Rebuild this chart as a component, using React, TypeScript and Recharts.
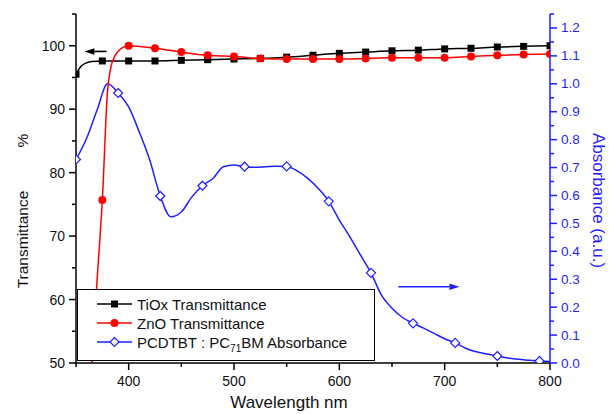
import { ComposedChart, Line, XAxis, YAxis, ReferenceLine } from "recharts";

const FONT = "'Liberation Sans', Arial, sans-serif";
const BLUE = "#1f1fff";

// marker wavelengths for the two transmittance curves (nm)
const markWl = [350, 375, 400, 425, 450, 475, 500, 525, 550, 575, 600, 625, 650, 675, 700, 725, 750, 775, 800];
const tiox = [95.5, 97.6, 97.6, 97.6, 97.7, 97.8, 97.9, 98.0, 98.2, 98.5, 98.8, 99.0, 99.2, 99.3, 99.5, 99.6, 99.8, 99.9, 100.0];
const zno = [20, 75.7, 100.0, 99.6, 99.0, 98.5, 98.3, 98.0, 97.9, 97.9, 97.9, 98.0, 98.1, 98.1, 98.1, 98.3, 98.5, 98.6, 98.7];

// extra samples of the measured curves near the band edge
const tioxEdgeWl = [355, 360, 365];
const tioxEdge = [96.8, 97.3, 97.5];
const znoEdgeWl = [360, 365, 370, 380, 383, 387, 393];
const znoEdge = [38, 50, 63, 93, 96.5, 98.4, 99.6];

// PCDTBT:PC71BM absorbance, line samples and marker points
const absWl = [350, 360, 370, 380, 390, 400, 410, 420, 430, 440, 450, 460, 470, 480, 490, 500, 510, 520, 530, 540, 550, 560, 570, 580, 590, 600, 610, 620, 630, 640, 650, 660, 670, 680, 690, 700, 710, 720, 730, 740, 750, 760, 770, 780, 790, 800];
const absVal = [0.729, 0.804, 0.906, 1.0, 0.967, 0.917, 0.828, 0.727, 0.598, 0.524, 0.541, 0.595, 0.635, 0.661, 0.703, 0.709, 0.703, 0.701, 0.703, 0.705, 0.704, 0.688, 0.661, 0.625, 0.579, 0.512, 0.452, 0.387, 0.323, 0.243, 0.196, 0.163, 0.142, 0.125, 0.106, 0.087, 0.072, 0.053, 0.04, 0.032, 0.025, 0.018, 0.013, 0.01, 0.007, 0.005];
const absMarkWl = [350, 390, 430, 470, 510, 550, 590, 630, 670, 710, 750, 790];

const xTicks = [350, 400, 450, 500, 550, 600, 650, 700, 750, 800];
const leftTicks = [50, 55, 60, 65, 70, 75, 80, 85, 90, 95, 100, 105];
const rightTicks = [0, 0.05, 0.1, 0.15, 0.2, 0.25, 0.3, 0.35, 0.4, 0.45, 0.5, 0.55, 0.6, 0.65, 0.7, 0.75, 0.8, 0.85, 0.9, 0.95, 1.0, 1.05, 1.1, 1.15, 1.2, 1.25];

const pts = (xs: number[], ys: number[]) => xs.map((x, i) => ({ x, y: ys[i] }));
const byX = (a: { x: number; y: number }[]) => [...a].sort((p, q) => p.x - q.x);

const tioxMarks = pts(markWl, tiox);
const tioxLine = byX([...tioxMarks, ...pts(tioxEdgeWl, tioxEdge)]);
const znoMarks = pts(markWl, zno);
const znoLine = byX([...znoMarks, ...pts(znoEdgeWl, znoEdge)]);
const absLine = pts(absWl, absVal);
const absMarks = absLine.filter((p) => absMarkWl.includes(p.x));

const SquareDot = (p: any) => <rect key={p.index} x={p.cx - 3.5} y={p.cy - 3.5} width={7} height={7} fill="#000" />;
const CircleDot = (p: any) => <circle key={p.index} cx={p.cx} cy={p.cy} r={4} fill="#ff0000" />;
const DiamondDot = (p: any) => (
  <polygon key={p.index} points={`${p.cx},${p.cy - 4.5} ${p.cx + 4.5},${p.cy} ${p.cx},${p.cy + 4.5} ${p.cx - 4.5},${p.cy}`} fill="#fff" stroke={BLUE} strokeWidth={1.2} />
);

const XTick = ({ x, y, payload }: any) => {
  const major = payload.value % 100 === 0;
  return (
    <g>
      <line x1={x} x2={x} y1={y} y2={y + (major ? 7 : 4)} stroke="#000" strokeWidth={1.5} />
      {major && (
        <text x={x} y={y + 23} textAnchor="middle" fontSize={14} fontFamily={FONT} fill="#111">
          {payload.value}
        </text>
      )}
    </g>
  );
};

const TopTick = ({ x, y, payload }: any) => {
  const major = payload.value % 100 === 0;
  return <line x1={x} x2={x} y1={y} y2={y + (major ? 7 : 4)} stroke="#000" strokeWidth={1.5} />;
};

const LeftTick = ({ x, y, payload }: any) => {
  const major = payload.value % 10 === 0 && payload.value <= 100;
  return (
    <g>
      <line x1={x - (major ? 7 : 4)} x2={x} y1={y} y2={y} stroke="#000" strokeWidth={1.5} />
      {major && (
        <text x={x - 11} y={y} textAnchor="end" dominantBaseline="central" fontSize={14} fontFamily={FONT} fill="#111">
          {payload.value}
        </text>
      )}
    </g>
  );
};

const RightTick = ({ x, y, payload }: any) => {
  const major = Math.round(payload.value * 100) % 10 === 0;
  return (
    <g>
      <line x1={x} x2={x + (major ? 7 : 4)} y1={y} y2={y} stroke={BLUE} strokeWidth={1.5} />
      {major && (
        <text x={x + 11} y={y} dominantBaseline="central" fontSize={13.5} fontFamily={FONT} fill={BLUE}>
          {payload.value.toFixed(1)}
        </text>
      )}
    </g>
  );
};

const Arrow = (p: any) => {
  const { x1, y1, x2, y2, stroke } = p;
  const dir = Math.sign(x2 - x1);
  const head = 10;
  return (
    <g>
      <line x1={x1} y1={y1} x2={x2 - dir * head} y2={y2} stroke={stroke} strokeWidth={1.6} />
      <polygon points={`${x2},${y2} ${x2 - dir * head},${y2 - 3.2} ${x2 - dir * head},${y2 + 3.2}`} fill={stroke} />
    </g>
  );
};

// "Transmittance" and "%" sit apart on the original axis title
const LeftTitle = ({ viewBox }: any) => {
  const cx = viewBox.x + 22;
  const mid = viewBox.y + viewBox.height / 2;
  const y1 = mid + 51;
  const y2 = mid - 48;
  return (
    <g fontSize={15.5} fontFamily={FONT} fill="#111">
      <text x={cx} y={y1} transform={`rotate(-90 ${cx} ${y1})`} textAnchor="middle" dominantBaseline="central">
        Transmittance
      </text>
      <text x={cx} y={y2} transform={`rotate(-90 ${cx} ${y2})`} textAnchor="middle" dominantBaseline="central">
        %
      </text>
    </g>
  );
};

const RightTitle = ({ viewBox }: any) => {
  const cx = viewBox.x + 48;
  const cy = viewBox.y + viewBox.height / 2 + 12;
  return (
    <text x={cx} y={cy} transform={`rotate(90 ${cx} ${cy})`} textAnchor="middle" dominantBaseline="central" fontSize={17} fontFamily={FONT} fill={BLUE}>
      Absorbance (a.u.)
    </text>
  );
};

const BottomTitle = ({ viewBox }: any) => (
  <text x={viewBox.x + viewBox.width / 2 - 24} y={viewBox.y + 45} textAnchor="middle" fontSize={17} fontFamily={FONT} fill="#111">
    Wavelength nm
  </text>
);

const legendRows = [
  { label: "TiOx Transmittance", color: "#000", shape: "square" },
  { label: "ZnO Transmittance", color: "#ff0000", shape: "circle" },
  { label: "PCDTBT : PC", color: BLUE, shape: "diamond" },
];

function LegendBox() {
  return (
    <div style={{ position: "absolute", left: 77, top: 289, width: 298, height: 72, border: "1px solid #000", background: "#fff", boxSizing: "border-box" }}>
      <svg width={296} height={70} style={{ display: "block" }}>
        {legendRows.map((r, i) => {
          const cy = 14 + i * 19;
          return (
            <g key={r.label}>
              <line x1={19} x2={54} y1={cy} y2={cy} stroke={r.color} strokeWidth={1.5} />
              {r.shape === "square" && <SquareDot cx={36.5} cy={cy} index={0} />}
              {r.shape === "circle" && <CircleDot cx={36.5} cy={cy} index={0} />}
              {r.shape === "diamond" && <DiamondDot cx={36.5} cy={cy} index={0} />}
              <text x={59} y={cy + 5.5} fontSize={15} fontFamily={FONT} fill="#111">
                {r.label}
                {r.shape === "diamond" && (
                  <>
                    <tspan fontSize={10} dy={4}>71</tspan>
                    <tspan dy={-4}>BM Absorbance</tspan>
                  </>
                )}
              </text>
            </g>
          );
        })}
      </svg>
    </div>
  );
}

export default function App() {
  return (
    <div style={{ position: "absolute", left: 0, top: 0, width: 609, height: 414, background: "#fff" }}>
      <ComposedChart width={609} height={414} margin={{ top: 14, right: 0, bottom: 0, left: 0 }}>
        <XAxis
          dataKey="x"
          type="number"
          domain={[350, 800]}
          ticks={xTicks}
          interval={0}
          allowDataOverflow
          tickSize={0}
          tickMargin={0}
          tick={XTick}
          height={51}
          axisLine={{ stroke: "#000", strokeWidth: 1.5 }}
          label={BottomTitle}
        />
        <XAxis
          xAxisId="top"
          orientation="top"
          dataKey="x"
          type="number"
          domain={[350, 800]}
          ticks={xTicks}
          interval={0}
          allowDataOverflow
          tickSize={0}
          tickMargin={0}
          tick={TopTick}
          height={0}
          axisLine={{ stroke: "#000", strokeWidth: 1.5 }}
        />
        <YAxis
          yAxisId="left"
          type="number"
          domain={[50, 105]}
          ticks={leftTicks}
          interval={0}
          allowDataOverflow
          tickSize={0}
          tickMargin={0}
          tick={LeftTick}
          width={76}
          axisLine={{ stroke: "#000", strokeWidth: 1.5 }}
          label={LeftTitle}
        />
        <YAxis
          yAxisId="right"
          orientation="right"
          type="number"
          domain={[0, 1.25]}
          ticks={rightTicks}
          interval={0}
          allowDataOverflow
          tickSize={0}
          tickMargin={0}
          tick={RightTick}
          width={59}
          axisLine={{ stroke: BLUE, strokeWidth: 1.5 }}
          label={RightTitle}
        />
        <Line yAxisId="right" data={absLine} dataKey="y" type="monotone" stroke={BLUE} strokeWidth={1.5} dot={false} activeDot={false} isAnimationActive={false} />
        <Line yAxisId="right" data={absMarks} dataKey="y" stroke="none" dot={DiamondDot} activeDot={false} isAnimationActive={false} />
        <Line yAxisId="left" data={tioxLine} dataKey="y" type="monotone" stroke="#000" strokeWidth={1.5} dot={false} activeDot={false} isAnimationActive={false} />
        <Line yAxisId="left" data={tioxMarks} dataKey="y" stroke="none" dot={SquareDot} activeDot={false} isAnimationActive={false} />
        <Line yAxisId="left" data={znoLine} dataKey="y" type="monotone" stroke="#ff0000" strokeWidth={1.5} dot={false} activeDot={false} isAnimationActive={false} />
        <Line yAxisId="left" data={znoMarks} dataKey="y" stroke="none" dot={CircleDot} activeDot={false} isAnimationActive={false} />
        <ReferenceLine yAxisId="left" segment={[{ x: 379, y: 99.1 }, { x: 358, y: 99.1 }]} stroke="#000" shape={Arrow} />
        <ReferenceLine yAxisId="right" segment={[{ x: 656, y: 0.273 }, { x: 714, y: 0.273 }]} stroke={BLUE} shape={Arrow} />
      </ComposedChart>
      <LegendBox />
    </div>
  );
}
